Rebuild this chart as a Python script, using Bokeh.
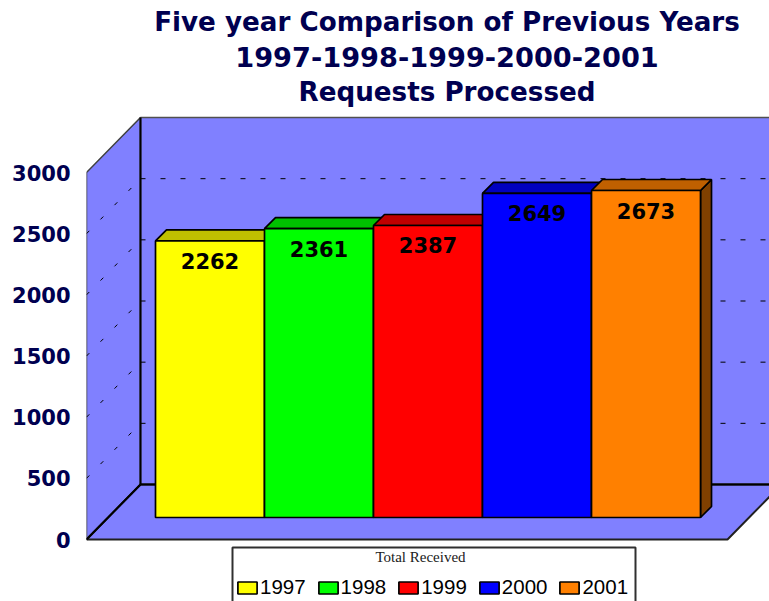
from bokeh.plotting import figure
from bokeh.models import Range1d, FixedTicker, Legend, LegendItem, BoxAnnotation, Label
from bokeh.embed import file_html
from bokeh.resources import INLINE

years = ["1997", "1998", "1999", "2000", "2001"]
values = [2262, 2361, 2387, 2649, 2673]
face_colors = ["#FFFF00", "#00FF00", "#FF0000", "#0000FF", "#FF8000"]
top_colors = ["#C0C000", "#00C000", "#C00000", "#0000C0", "#C06000"]
side_colors = ["#808000", "#008000", "#800000", "#000080", "#804000"]
ticks = [0, 500, 1000, 1500, 2000, 2500, 3000]
title_lines = ["Five year Comparison of Previous Years", "1997-1998-1999-2000-2001", "Requests Processed"]
title_sizes = ["26.2px", "27.2px", "26.2px"]
legend_title = "Total Received"

NAVY = "#000050"
WALL = "#8080FF"
PXX = 109.0
PXY = 0.12233
CANVAS_LEFT = 0
CANVAS_TOP = 0
CANVAS_W = 769
CANVAS_H = 601
FRAME_LEFT = 86
FRAME_RIGHT = CANVAS_LEFT + CANVAS_W
FRAME_TOP = CANVAS_TOP
FRAME_BOTTOM = CANVAS_TOP + CANVAS_H

def dx(px):
    return px / PXX

def dy(px):
    return px / PXY

x0 = dx(FRAME_LEFT - 155)
x1 = dx(FRAME_RIGHT - 155)
y_top = dy(539 - FRAME_TOP)
y_bot = dy(539 - FRAME_BOTTOM)

p = figure(width=CANVAS_W, height=CANVAS_H, output_backend="svg", toolbar_location=None,
           x_range=Range1d(x0, x1), y_range=Range1d(y_bot, y_top),
           min_border_left=FRAME_LEFT - CANVAS_LEFT, min_border_right=0, min_border_top=0, min_border_bottom=0,
           x_axis_location=None)
p.outline_line_color = None
p.grid.visible = False
p.title = None

ax = p.yaxis[0]
ax.ticker = FixedTicker(ticks=ticks)
ax.bounds = (ticks[0], ticks[-1])
ax.axis_line_color = None
ax.major_tick_line_color = None
ax.minor_tick_line_color = None
ax.major_tick_out = 0
ax.major_tick_in = 0
ax.major_label_standoff = 16
ax.major_label_text_font = "DejaVu Sans"
ax.major_label_text_font_style = "bold"
ax.major_label_text_font_size = "21px"
ax.major_label_text_color = NAVY

D_X = dx(54)
D_Y = dy(55)
WALL_W = dx(727 - 86)
TOP = ticks[-1]

p.patch([x0, x0 + D_X, x0 + D_X, x0], [0, D_Y, D_Y + TOP, TOP], fill_color=WALL, line_color="#404040", line_width=1.5)
p.patch([x0 + D_X, x0 + D_X + WALL_W, x0 + D_X + WALL_W, x0 + D_X], [D_Y, D_Y, D_Y + TOP, D_Y + TOP],
        fill_color=WALL, line_color="#505050", line_width=1.5)
p.patch([x0, x0 + WALL_W, x0 + WALL_W + D_X, x0 + D_X], [0, 0, D_Y, D_Y], fill_color=WALL, line_color="#202020", line_width=2)
p.line([x0 + D_X, x0 + D_X], [D_Y, D_Y + TOP], line_color="black", line_width=2)
p.line([x0, x0 + D_X], [0, D_Y], line_color="black", line_width=2)
p.line([x0 + D_X, x0 + D_X + WALL_W], [D_Y, D_Y], line_color="black", line_width=2)

grid_levels = ticks[1:-1]
p.segment([x0 + D_X] * len(grid_levels), [g + D_Y for g in grid_levels],
          [x0 + D_X + WALL_W] * len(grid_levels), [g + D_Y for g in grid_levels],
          line_color="black", line_width=1, line_dash="5 15")
p.segment([x0] * len(grid_levels), grid_levels,
          [x0 + D_X] * len(grid_levels), [g + D_Y for g in grid_levels],
          line_color="black", line_width=1, line_dash="4 16")

BASE = dy(22)
BD_X = dx(11)
BD_Y = dy(11)
items = []
for i, (yr, v) in enumerate(zip(years, values)):
    h = BASE + v
    p.patch([i + 1, i + 1 + BD_X, i + 1 + BD_X, i + 1], [BASE, BASE + BD_Y, h + BD_Y, h],
            fill_color=side_colors[i], line_color="black", line_width=1.7)
    p.patch([i, i + BD_X, i + 1 + BD_X, i + 1], [h, h + BD_Y, h + BD_Y, h],
            fill_color=top_colors[i], line_color="black", line_width=1.7)
    r = p.quad(left=[i], right=[i + 1], bottom=[BASE], top=[h],
               fill_color=face_colors[i], line_color="black", line_width=1.7)
    items.append(LegendItem(label=yr, renderers=[r]))

p.text([i + 0.5 for i in range(len(values))], [BASE + v for v in values], [str(v) for v in values],
       text_align="center", text_baseline="middle", y_offset=20, text_font={"value": "DejaVu Sans"},
       text_font_style="bold", text_font_size="21px", text_color="black")

for line, size, center_px in zip(title_lines, title_sizes, [21, 56, 91]):
    p.add_layout(Label(x=dx(446.5 - 155), y=dy(539 - center_px), text=line, text_align="center", text_baseline="middle",
                       text_font="DejaVu Sans", text_font_size=size, text_font_style="bold", text_color=NAVY))

p.add_layout(BoxAnnotation(left=dx(232 - 155), right=dx(635 - 155), top=dy(539 - 547), bottom=dy(539 - 620),
                           fill_color="white", fill_alpha=1, line_color="#303030", line_alpha=1, line_width=2))
p.add_layout(Label(x=dx(420 - 155), y=dy(539 - 556), text=legend_title, text_align="center", text_baseline="middle",
                   text_font="Liberation Serif", text_font_size="15px", text_color="#202020"))

legend = Legend(items=items, orientation="horizontal", location=(149, 2),
                label_text_font="Liberation Sans", label_text_font_size="20.5px", label_text_color="black",
                glyph_width=24, glyph_height=15, label_standoff=1, spacing=10, padding=0, margin=0,
                border_line_color=None, background_fill_alpha=0)
p.add_layout(legend, "center")

open("out.html", "w").write(file_html(p, INLINE))
